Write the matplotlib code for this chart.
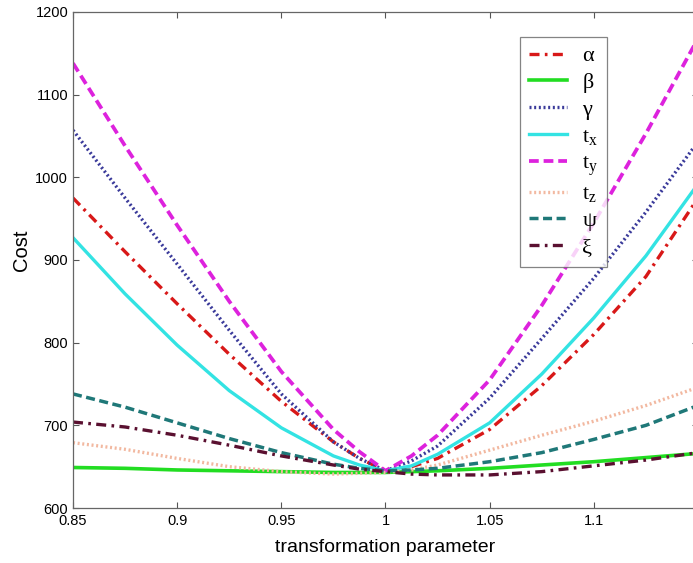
import numpy as np
import matplotlib
matplotlib.use("Agg")
import matplotlib.pyplot as plt

plt.rcParams['font.family'] = ['Liberation Sans', 'DejaVu Sans']
plt.rcParams['mathtext.fontset'] = 'custom'
plt.rcParams['mathtext.rm'] = 'Liberation Serif'
plt.rcParams['mathtext.it'] = 'Liberation Serif'

# transformation parameter samples
x = [0.85, 0.875, 0.9, 0.925, 0.95, 0.975, 0.9875, 1.0, 1.0125, 1.025, 1.05, 1.075, 1.1, 1.125, 1.15]

# cost curves
alpha = [975, 910, 847, 786, 729, 680, 660, 645, 650, 660, 695, 748, 810, 880, 975]
beta  = [649, 648, 646, 645, 644, 643, 643, 643, 644, 645, 648, 652, 656, 661, 666]
gamma = [1057, 975, 895, 815, 738, 680, 660, 645, 657, 675, 733, 805, 878, 958, 1043]
t_x   = [927, 859, 797, 742, 697, 663, 652, 645, 651, 665, 703, 762, 830, 905, 992]
t_y   = [1138, 1038, 942, 850, 765, 695, 668, 645, 663, 688, 755, 845, 945, 1053, 1168]
t_z   = [679, 671, 660, 650, 644, 641, 642, 643, 646, 652, 670, 688, 705, 724, 746]
psi   = [738, 722, 703, 684, 667, 653, 648, 645, 646, 648, 656, 667, 683, 700, 724]
xi    = [704, 698, 688, 676, 663, 652, 647, 644, 641, 640, 640, 644, 651, 658, 667]

labels = [u'\u03b1', u'\u03b2', u'\u03b3', r'$\mathrm{t}_{\mathrm{x}}$', r'$\mathrm{t}_{\mathrm{y}}$',
          r'$\mathrm{t}_{\mathrm{z}}$', u'\u03c8', u'\u03be']

xticks = [0.85, 0.9, 0.95, 1.0, 1.05, 1.1]
yticks = [600, 700, 800, 900, 1000, 1100, 1200]

styles = [
    (alpha, '#d81818', (0, (3, 1.6, 0.8, 1.6)), 2.4),
    (beta,  '#22dd22', '-', 2.6),
    (gamma, '#3a3a9a', (0, (0.6, 0.8)), 2.4),
    (t_x,   '#33e3e3', '-', 2.4),
    (t_y,   '#dd22dd', (0, (2.6, 1.3)), 2.7),
    (t_z,   '#f2b8a0', (0, (0.6, 0.8)), 2.4),
    (psi,   '#1f7878', (0, (2.6, 1.3)), 2.5),
    (xi,    '#5a1030', (0, (3, 1.6, 0.8, 1.6)), 2.4),
]

fig = plt.figure(figsize=(6.93, 5.63), dpi=100)
ax = fig.add_axes([73 / 693, 1 - 508 / 563, (698 - 73) / 693, (508 - 12) / 563])

for (vals, col, ls, lw), lab in zip(styles, labels):
    ax.plot(x, vals, color=col, linestyle=ls, linewidth=lw, label=lab)

ax.set_xlim(0.85, 1.15)
ax.set_ylim(600, 1200)
ax.set_xticks(xticks)
ax.set_xticklabels(['%g' % v for v in xticks])
ax.set_yticks(yticks)
ax.tick_params(direction='in', length=4.5, top=True, right=True, labelsize=10.5,
               color='#555555', width=0.8)
ax.tick_params(axis='x', pad=4)
for s in ax.spines.values():
    s.set_color('#666666')
    s.set_linewidth(0.9)

ax.set_xlabel('transformation parameter', fontsize=14, labelpad=8)
ax.set_ylabel('Cost', fontsize=14.5, labelpad=6)
ax.yaxis.set_label_coords(-0.067, 0.52)

leg = ax.legend(loc='upper left', bbox_to_anchor=(447 / 625, 1 - 25 / 496),
                prop={'family': ['Liberation Serif', 'DejaVu Serif'], 'size': 16},
                frameon=True, fancybox=False, edgecolor='#666666', handlelength=1.7,
                labelspacing=0.28, borderpad=0.4, handletextpad=0.7, borderaxespad=0)
leg.get_frame().set_linewidth(0.9)

fig.savefig('out.png', dpi=100)
